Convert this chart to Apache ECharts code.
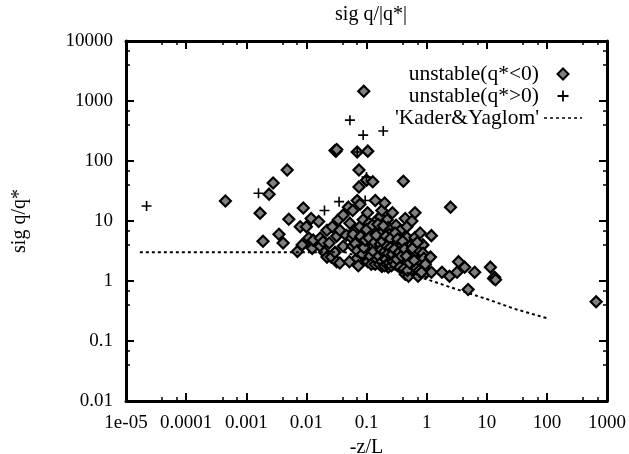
<!DOCTYPE html>
<html>
<head>
<meta charset="utf-8">
<script src="https://cdn.jsdelivr.net/npm/echarts@6/dist/echarts.min.js"></script>
<style>
  html, body { margin: 0; padding: 0; background: #fff; }
  #main { width: 629px; height: 454px; }
</style>
</head>
<body>
<div id="main"></div>
<script>
// -z/L vs sig q/q*
var negPoints = [ // unstable(q*<0)
  [0.00045, 21.5], [0.0017, 13.5], [0.0019, 4.6], [0.0024, 28], [0.0028, 43], [0.0048, 71],
  [0.0035, 6], [0.0041, 4.3], [0.0051, 10.7], [0.0071, 3.1], [0.0079, 8], [0.0085, 4],
  [0.0089, 16.5], [0.010, 8], [0.011, 5.2], [0.012, 11], [0.0125, 3.5], [0.013, 4.8],
  [0.016, 9.8], [0.017, 5.2], [0.017, 3.8], [0.019, 4.5], [0.020, 3.0], [0.022, 7],
  [0.022, 2.5], [0.024, 4.3], [0.026, 2.5], [0.027, 8], [0.030, 3.0], [0.032, 5.6],
  [0.032, 2.1], [0.034, 10.5], [0.036, 7], [0.036, 2.0], [0.041, 12.6], [0.041, 3.8],
  [0.046, 5.8], [0.050, 17], [0.052, 2.1], [0.053, 9.2], [0.057, 5.2], [0.059, 15],
  [0.059, 3.8], [0.064, 7], [0.070, 22], [0.070, 2.4], [0.073, 1.8], [0.078, 19],
  [0.078, 8], [0.078, 4.8], [0.078, 3.0], [0.088, 10.5], [0.088, 4.3], [0.09, 6.2],
  [0.10, 5.8], [0.10, 3.9], [0.10, 2.5], [0.104, 13.7], [0.11, 9.2], [0.11, 3.2],
  [0.12, 6.5], [0.12, 4.5], [0.12, 3.5], [0.13, 5.2], [0.13, 3.8], [0.13, 2.0],
  [0.14, 22], [0.14, 6.6], [0.14, 2.8], [0.14, 2.5], [0.15, 10.5], [0.15, 7.2],
  [0.15, 4.2], [0.155, 3.0], [0.16, 4.6], [0.16, 3.2], [0.17, 11.6], [0.17, 5.6],
  [0.17, 2.2], [0.18, 15], [0.18, 6.4], [0.18, 3.6], [0.18, 2.4], [0.18, 1.75],
  [0.19, 5.0], [0.19, 2.9], [0.20, 20], [0.20, 4], [0.20, 2.7], [0.20, 2.0],
  [0.21, 7.5], [0.21, 3.4], [0.22, 10.5], [0.22, 2.6], [0.23, 7.8], [0.23, 4.3],
  [0.23, 1.7], [0.24, 6], [0.24, 3.1], [0.25, 2.4], [0.26, 3.3], [0.26, 2.2],
  [0.27, 13.7], [0.27, 3.9], [0.28, 5.5], [0.28, 4.8], [0.30, 2.6], [0.31, 8.5],
  [0.32, 3.3], [0.33, 1.8], [0.34, 4.3], [0.35, 2.4], [0.37, 7], [0.37, 3.8],
  [0.40, 2.9], [0.40, 2.1], [0.41, 46], [0.44, 11], [0.44, 1.3], [0.45, 1.9],
  [0.47, 8], [0.47, 5.3], [0.50, 2.4], [0.50, 1.2], [0.53, 3.8], [0.55, 2.9],
  [0.57, 10], [0.57, 1.55], [0.60, 1.8], [0.64, 13.7], [0.64, 5.3], [0.65, 2.7],
  [0.69, 2.2], [0.72, 1.2], [0.75, 3.2], [0.78, 6.3], [0.80, 2.0], [0.87, 4],
  [0.87, 2.9], [0.87, 1.7], [0.90, 2.4], [1.0, 1.4], [1.16, 2.5], [1.2, 5.7],
  [1.2, 1.4], [1.8, 1.4], [2.4, 1.2], [2.5, 17], [3.2, 1.4], [3.4, 2.1],
  [4.3, 1.7], [4.9, 0.72], [6.3, 1.4], [11.5, 1.7], [13, 1.1], [13.5, 1.15],
  [14, 1.05], [660, 0.45],
  [0.030, 150], [0.031, 145], [0.032, 155], [0.07, 141], [0.075, 71], [0.075, 37],
  [0.09, 1450], [0.10, 48], [0.105, 146], [0.127, 45],
  [0.06, 6.0], [0.065, 4.2], [0.07, 3.2], [0.08, 5.5], [0.085, 2.8], [0.09, 3.6],
  [0.095, 4.8], [0.10, 7.2], [0.105, 2.1], [0.11, 5.2], [0.115, 2.6], [0.12, 1.9],
  [0.125, 8.5], [0.13, 3.1], [0.135, 4.4], [0.14, 1.9], [0.145, 5.8], [0.15, 2.3],
  [0.155, 8.8], [0.16, 2.6], [0.165, 1.9], [0.17, 4.1], [0.175, 3.3], [0.18, 2.1],
  [0.185, 4.6], [0.19, 8.3], [0.20, 3.1], [0.20, 1.8], [0.21, 5.6], [0.21, 2.3],
  [0.22, 3.8], [0.22, 1.9], [0.23, 2.9], [0.24, 2.0], [0.25, 5.1], [0.25, 3.6],
  [0.26, 1.8], [0.27, 2.8], [0.28, 2.1], [0.29, 3.4], [0.30, 1.9], [0.30, 6.3],
  [0.32, 2.3], [0.33, 5.0], [0.35, 3.0], [0.36, 1.7], [0.38, 2.6], [0.40, 4.6],
  [0.42, 1.6], [0.43, 3.4], [0.46, 2.6], [0.48, 1.5], [0.52, 2.0], [0.58, 3.5],
  [0.62, 2.2], [0.68, 1.6], [0.70, 4.4], [0.75, 1.5], [0.82, 1.4], [0.95, 1.9]
];
var posPoints = [ // unstable(q*>0)
  [2.2e-5, 17.8], [0.0016, 29], [0.020, 15], [0.035, 21], [0.053, 480],
  [0.07, 141], [0.088, 270], [0.095, 22], [0.10, 54], [0.19, 316]
];
var kyLine = [ // 'Kader&Yaglom'
  [1.7e-5, 3.0], [0.02, 3.0], [0.045, 3.0], [0.1, 2.3], [0.3, 1.6],
  [1, 1.07], [3, 0.74], [10, 0.5], [30, 0.34], [100, 0.24]
];
var xTicks = ['1e-05', '0.0001', '0.001', '0.01', '0.1', '1', '10', '100', '1000'];
var yTicks = ['0.01', '0.1', '1', '10', '100', '1000', '10000'];

var serif = 'Liberation Serif';
var plusPath = 'path://M4.2,0H5.8V4.2H10V5.8H5.8V10H4.2V5.8H0V4.2H4.2Z';
var diamondPath = 'path://M5,0L10,5L5,10L0,5Z';
var dashPath = 'path://M0,0h3v1.6h-3z M6,0h3v1.6h-3z M12,0h3v1.6h-3z M18,0h3v1.6h-3z' +
  'M24,0h3v1.6h-3z M30,0h3v1.6h-3z M36,0h2v1.6h-2z';

function tickName(list, v) {
  var k = Math.round(Math.log10(v));
  var idx = list === xTicks ? k + 5 : k + 2;
  return list[idx] || '';
}

function logAxis(pos, min, max, list, showLabel) {
  return {
    type: 'log', logBase: 10, min: min, max: max, position: pos,
    axisLine: { show: true, lineStyle: { color: '#000', width: 3 } },
    axisTick: { show: true, inside: true, length: 8, lineStyle: { color: '#000', width: 2 } },
    minorTick: { show: true, splitNumber: 3, length: 4, lineStyle: { color: '#000', width: 1.5 } },
    splitLine: { show: false },
    axisLabel: {
      show: showLabel, fontFamily: serif, fontSize: 19, color: '#000', margin: 13,
      formatter: function (v) { return tickName(list, v); }
    }
  };
}

var dom = document.getElementById('main');
var chart = echarts.init(dom);

var xBottom = logAxis('bottom', 1e-5, 1000, xTicks, true);
xBottom.name = '-z/L';
xBottom.nameLocation = 'middle';
xBottom.nameGap = 31;
xBottom.nameTextStyle = { fontFamily: serif, fontSize: 20, color: '#000' };
var yLeft = logAxis('left', 0.01, 10000, yTicks, true);
yLeft.name = 'sig q/q*';
yLeft.nameLocation = 'middle';
yLeft.nameGap = 96;
yLeft.nameTextStyle = { fontFamily: serif, fontSize: 20, color: '#000' };

chart.setOption({
  animation: false,
  backgroundColor: '#fff',
  title: {
    text: 'sig q/|q*|', left: 366, top: 0, textAlign: 'center',
    textStyle: { fontFamily: serif, fontSize: 20, fontWeight: 'normal', color: '#000' }
  },
  grid: { left: 126, right: 22, top: 41, bottom: 53, outerBoundsMode: 'none', containLabel: false },
  legend: {
    orient: 'vertical', right: 42, top: 58, align: 'right',
    itemWidth: 38, itemHeight: 11, itemGap: 0,
    textStyle: { fontFamily: serif, fontSize: 21.5, color: '#000', lineHeight: 20 },
    data: [
      { name: 'unstable(q*<0)', icon: diamondPath },
      { name: 'unstable(q*>0)', icon: plusPath },
      { name: '\'Kader&Yaglom\'', icon: dashPath, itemStyle: { color: '#000' } }
    ]
  },
  xAxis: [xBottom, logAxis('top', 1e-5, 1000, xTicks, false)],
  yAxis: [yLeft, logAxis('right', 0.01, 10000, yTicks, false)],
  series: [
    {
      name: 'unstable(q*<0)', type: 'scatter', data: negPoints,
      symbol: diamondPath, symbolSize: 11, symbolKeepAspect: true,
      itemStyle: { color: '#808080', borderColor: '#000', borderWidth: 2.2, opacity: 1 }
    },
    {
      name: 'unstable(q*>0)', type: 'scatter', data: posPoints,
      symbol: plusPath, symbolSize: 10, symbolKeepAspect: true,
      itemStyle: { color: '#000', opacity: 1 }
    },
    {
      name: '\'Kader&Yaglom\'', type: 'line', data: kyLine, symbol: 'none', smooth: false,
      lineStyle: { color: '#000', width: 2, type: [3, 3] },
      itemStyle: { color: '#000' }
    }
  ]
});
</script>
</body>
</html>
